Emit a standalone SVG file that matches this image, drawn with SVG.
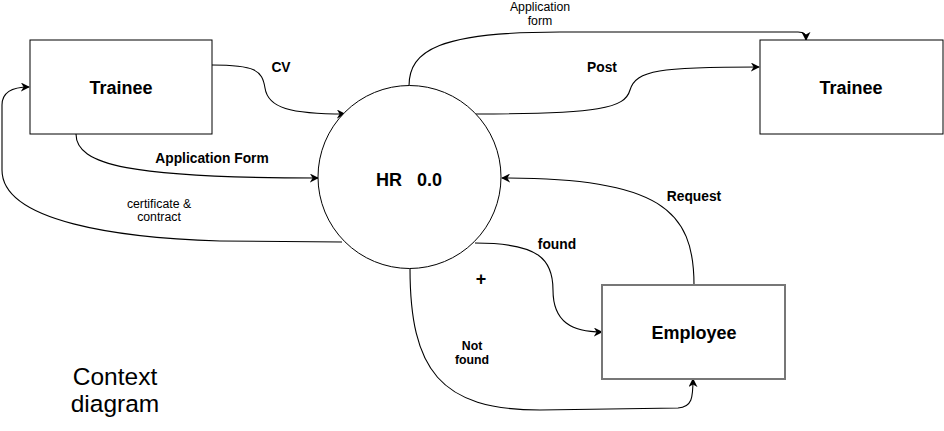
<svg xmlns="http://www.w3.org/2000/svg" width="944" height="431" viewBox="0 0 944 431">
<style>
.box{fill:#fff;stroke:#000;stroke-width:1}
.emp{fill:#fff;stroke:#777;stroke-width:2}
.edge{fill:none;stroke:#000;stroke-width:1.1}
text{font-family:"Liberation Sans",Arial,sans-serif;fill:#000}
.node{font-size:18px;font-weight:bold;text-anchor:middle}
.lbl{font-size:13.8px;font-weight:bold;text-anchor:middle}
.sm{font-size:12.3px;text-anchor:middle}
</style>
<defs>
<marker id="arr" viewBox="0 0 10 10" refX="9" refY="5" markerWidth="9" markerHeight="9" markerUnits="userSpaceOnUse" orient="auto">
<path d="M0,0 L10,5 L0,10 L3,5 Z" fill="#000"/>
</marker>
</defs>
<g id="connectors">
<path class="edge" d="M212,65 C255,65 262,70 265,88 C268,108 290,114 345,114" marker-end="url(#arr)"/>
<path class="edge" d="M76,134 C76,165 130,178 318,178" marker-end="url(#arr)"/>
<path class="edge" d="M342,242 L220,241 C120,238 2,222 2,170 L2,105 C2,93 12,87 29,87" marker-end="url(#arr)"/>
<path class="edge" d="M409,86 C409,50 440,32 560,32 L798,32 C804,32 806,34 806,40" marker-end="url(#arr)"/>
<path class="edge" d="M476,114 C600,114 625,108 630,90 C636,70 660,67 759,67" marker-end="url(#arr)"/>
<path class="edge" d="M694,285 C694,210 660,178 502,178" marker-end="url(#arr)"/>
<path class="edge" d="M475,243 C540,243 553,260 553,290 C553,322 572,332 602,332" marker-end="url(#arr)"/>
<path class="edge" d="M410,268 C410,370 440,410 540,410 L678,408 C692,407 693,398 693,379" marker-end="url(#arr)"/>
<text class="lbl" x="281" y="72">CV</text>
<text class="lbl" x="212" y="163">Application Form</text>
<text class="sm" x="159" y="208">certificate &amp;</text>
<text class="sm" x="159" y="221">contract</text>
<text class="sm" x="540" y="11">Application</text>
<text class="sm" x="540" y="25">form</text>
<text class="lbl" x="602" y="72">Post</text>
<text class="lbl" x="694" y="201">Request</text>
<text class="lbl" x="557" y="249">found</text>
<text class="sm" x="472" y="350" style="font-weight:bold">Not</text>
<text class="sm" x="472" y="364" style="font-weight:bold">found</text>
</g>
<g id="trainee-left">
<rect class="box" x="30" y="40" width="182" height="94"/>
<text class="node" x="121" y="94">Trainee</text>
</g>
<g id="trainee-right">
<rect class="box" x="760" y="40" width="183" height="94"/>
<text class="node" x="851" y="94">Trainee</text>
</g>
<g id="hr">
<circle class="box" cx="409.5" cy="177" r="91.5"/>
<text class="node" x="409" y="186" xml:space="preserve">HR   0.0</text>
</g>
<g id="employee">
<rect class="emp" x="602" y="285" width="183" height="94"/>
<text class="node" x="694" y="339">Employee</text>
</g>
<g id="notes">
<text x="481" y="284.5" style="font-size:18px;font-weight:bold;text-anchor:middle">+</text>
<text x="115" y="385" style="font-size:24.5px;text-anchor:middle">Context</text>
<text x="115" y="412" style="font-size:24.5px;text-anchor:middle">diagram</text>
</g>
</svg>
